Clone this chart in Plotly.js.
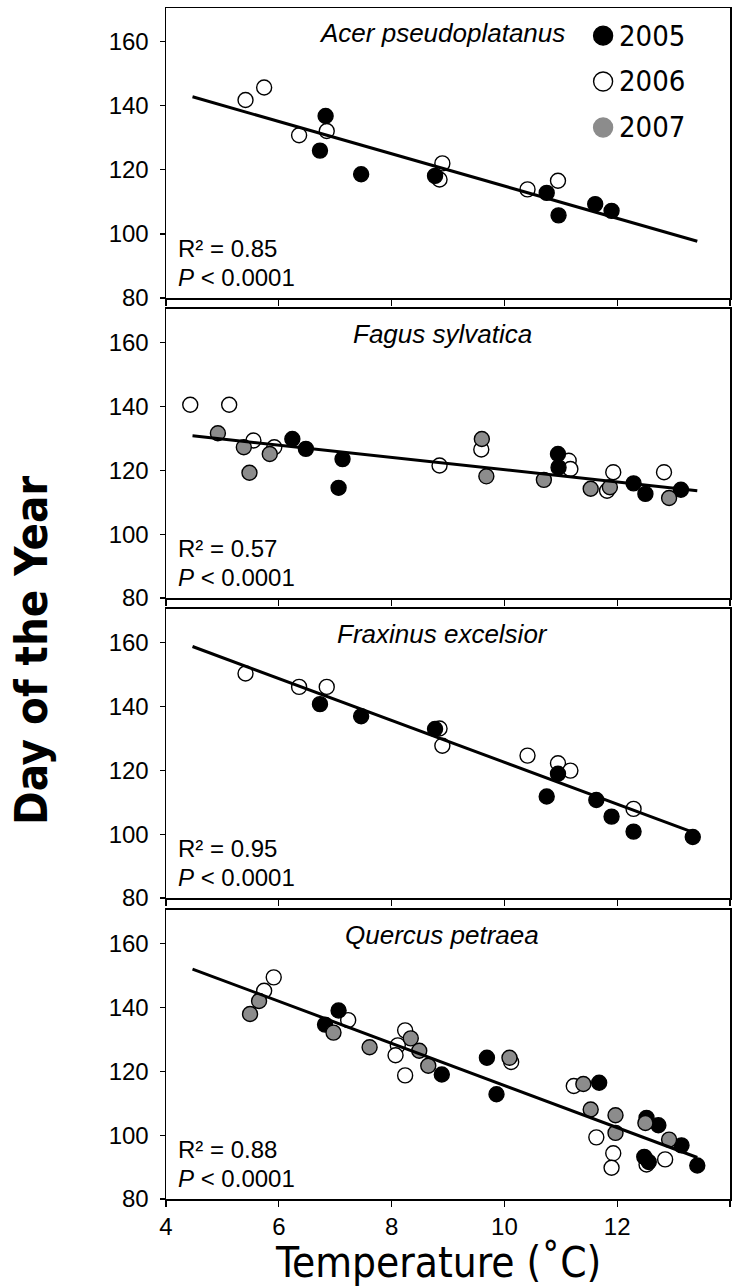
<!DOCTYPE html>
<html>
<head>
<meta charset="utf-8">
<script src="https://cdn.plot.ly/plotly-3.0.1.min.js"></script>
<style>html,body{margin:0;padding:0;background:#fff;}#chart{width:742px;height:1286px;}</style>
</head>
<body>
<div id="chart"></div>
<script>
// ---------- data ----------
const species = ['Acer pseudoplatanus', 'Fagus sylvatica', 'Fraxinus excelsior', 'Quercus petraea'];
const years = ['2005', '2006', '2007'];
const r2Values = ['0.85', '0.57', '0.95', '0.88'];
const pLabel = '0.0001';
const xTickVals = [4, 6, 8, 10, 12, 14];
const yTickVals = [80, 100, 120, 140, 160];

// Acer pseudoplatanus
const acer2005X = [6.83, 6.73, 7.46, 8.77, 10.75, 10.96, 11.61, 11.90];
const acer2005Y = [136.8, 126.0, 118.6, 118.1, 112.8, 105.8, 109.3, 107.2];
const acer2006X = [5.41, 5.74, 6.36, 6.85, 8.90, 8.85, 10.41, 10.95];
const acer2006Y = [141.8, 145.7, 130.8, 132.1, 122.0, 117.0, 113.9, 116.6];
const acer2007X = [];
const acer2007Y = [];
const acerFitX = [4.47, 13.42];
const acerFitY = [142.8, 97.7];

// Fagus sylvatica
const fagus2005X = [6.24, 6.48, 7.13, 7.06, 10.95, 10.96, 12.29, 12.50, 13.13];
const fagus2005Y = [129.8, 126.7, 123.5, 114.5, 125.1, 120.9, 115.9, 112.6, 113.9];
const fagus2006X = [4.43, 5.12, 5.55, 5.92, 8.85, 9.59, 11.14, 11.17, 11.93, 11.82, 12.83];
const fagus2006Y = [140.5, 140.5, 129.3, 127.2, 121.5, 126.5, 123.0, 120.4, 119.4, 113.6, 119.4];
const fagus2007X = [4.92, 5.38, 5.48, 5.84, 9.60, 9.68, 10.70, 11.53, 11.87, 12.92];
const fagus2007Y = [131.6, 127.2, 119.2, 125.1, 129.8, 118.1, 117.0, 114.2, 114.7, 111.3];
const fagusFitX = [4.47, 13.42];
const fagusFitY = [130.8, 113.6];

// Fraxinus excelsior
const frax2005X = [6.73, 7.46, 8.77, 10.95, 10.75, 11.63, 11.90, 12.29, 13.34];
const frax2005Y = [140.7, 136.9, 132.9, 118.9, 111.8, 110.7, 105.5, 100.8, 99.1];
const frax2006X = [5.41, 6.36, 6.85, 8.85, 8.90, 10.41, 10.95, 11.17, 12.29];
const frax2006Y = [150.3, 146.1, 146.1, 133.1, 127.7, 124.6, 122.2, 119.9, 107.9];
const frax2007X = [];
const frax2007Y = [];
const fraxFitX = [4.47, 13.42];
const fraxFitY = [158.75, 100.1];

// Quercus petraea
const quer2005X = [7.06, 6.82, 8.89, 9.69, 9.86, 11.68, 12.52, 12.73, 13.14, 12.48, 12.56, 13.42];
const quer2005Y = [139.0, 134.6, 119.0, 124.2, 112.8, 116.4, 105.4, 103.1, 96.8, 93.2, 91.6, 90.5];
const quer2006X = [5.91, 5.74, 7.23, 8.24, 8.11, 8.07, 8.24, 10.12, 11.23, 11.63, 11.93, 11.90, 12.52, 12.85];
const quer2006Y = [149.4, 145.2, 136.0, 132.8, 128.1, 125.0, 118.7, 122.9, 115.4, 99.3, 94.3, 89.8, 90.8, 92.4];
const quer2007X = [5.49, 5.65, 6.97, 7.61, 8.34, 8.49, 8.65, 10.09, 11.40, 11.53, 11.97, 11.97, 12.50, 12.92];
const quer2007Y = [137.9, 142.0, 132.1, 127.5, 130.3, 126.4, 121.7, 124.2, 116.0, 108.0, 106.2, 100.7, 103.8, 98.6];
const querFitX = [4.47, 13.42];
const querFitY = [152.0, 93.0];

// ---------- build ----------
const panels = [
  {s05: [acer2005X, acer2005Y], s06: [acer2006X, acer2006Y], s07: [acer2007X, acer2007Y], fit: [acerFitX, acerFitY]},
  {s05: [fagus2005X, fagus2005Y], s06: [fagus2006X, fagus2006Y], s07: [fagus2007X, fagus2007Y], fit: [fagusFitX, fagusFitY]},
  {s05: [frax2005X, frax2005Y], s06: [frax2006X, frax2006Y], s07: [frax2007X, frax2007Y], fit: [fraxFitX, fraxFitY]},
  {s05: [quer2005X, quer2005Y], s06: [quer2006X, quer2006Y], s07: [quer2007X, quer2007Y], fit: [querFitX, querFitY]}
];

const GRAY = '#8c8c8c';
const yearStyle = {
  '2005': {color: '#000000'},
  '2006': {color: '#ffffff'},
  '2007': {color: GRAY}
};
const domains = [[0.7565, 1.0], [0.5046, 0.7473], [0.2527, 0.4954], [0.0, 0.2427]];

const traces = [];
const layout = {
  width: 742, height: 1286,
  margin: {l: 166, r: 12, t: 8, b: 87},
  paper_bgcolor: '#ffffff', plot_bgcolor: '#ffffff',
  showlegend: false,
  font: {family: 'Liberation Sans, Arial, sans-serif', color: '#000'},
  annotations: [], shapes: []
};

panels.forEach((p, i) => {
  const n = i === 0 ? '' : String(i + 1);
  const xa = 'x' + n, ya = 'y' + n;
  const mk = (xy, yr) => ({
    type: 'scatter', mode: 'markers', x: xy[0], y: xy[1], xaxis: xa, yaxis: ya,
    name: yr, hoverinfo: 'x+y',
    marker: {size: 15, color: yearStyle[yr].color, line: {color: '#000', width: 1.4}}
  });
  traces.push(mk(p.s06, '2006'));
  traces.push(mk(p.s05, '2005'));
  traces.push(mk(p.s07, '2007'));
  traces.push({type: 'scatter', mode: 'lines', x: p.fit[0], y: p.fit[1], xaxis: xa, yaxis: ya,
    line: {color: '#000', width: 3}, hoverinfo: 'skip'});

  layout['xaxis' + n] = {
    anchor: ya, domain: [0, 1], range: [4, 14], tickvals: xTickVals,
    ticks: 'outside', ticklen: 6, tickwidth: 1.2, tickcolor: '#000',
    showticklabels: i === 3, tickfont: {size: 24, family: 'Liberation Sans, Arial, sans-serif'},
    showline: true, linecolor: '#000', linewidth: 1.5, mirror: true,
    showgrid: false, zeroline: false, fixedrange: true
  };
  layout['yaxis' + n] = {
    anchor: xa, domain: domains[i], range: [80, 170.5], tickvals: yTickVals,
    ticks: 'outside', ticklen: 5, tickwidth: 1.2, tickcolor: '#000',
    tickfont: {size: 24, family: 'Liberation Sans, Arial, sans-serif'},
    ticklabelstandoff: 6,
    showline: true, linecolor: '#000', linewidth: 1.5, mirror: true,
    showgrid: false, zeroline: false, fixedrange: true
  };

  layout.annotations.push({
    xref: xa + ' domain', yref: ya + ' domain', x: 0.49, y: 0.915,
    xanchor: 'center', yanchor: 'middle', showarrow: false,
    text: '<i>' + species[i] + '</i>', font: {size: 26, family: 'Liberation Sans, Arial, sans-serif'}
  });
  layout.annotations.push({
    xref: xa + ' domain', yref: ya + ' domain', x: 0.018, y: 0.172,
    xanchor: 'left', yanchor: 'middle', showarrow: false,
    text: 'R² = ' + r2Values[i], font: {size: 24, family: 'Liberation Sans, Arial, sans-serif'}
  });
  layout.annotations.push({
    xref: xa + ' domain', yref: ya + ' domain', x: 0.018, y: 0.072,
    xanchor: 'left', yanchor: 'middle', showarrow: false,
    text: '<i>P</i> &lt; ' + pLabel, font: {size: 24, family: 'Liberation Sans, Arial, sans-serif'}
  });
});

// legend (panel 1)
const legY = [0.9768, 0.9383, 0.8997];
years.forEach((yr, k) => {
  layout.shapes.push({
    type: 'circle', xref: 'paper', yref: 'paper', xsizemode: 'pixel', ysizemode: 'pixel',
    xanchor: 0.775, yanchor: legY[k], x0: -9.5, x1: 9.5, y0: -9.5, y1: 9.5,
    fillcolor: yearStyle[yr].color, line: {color: yr === '2007' ? GRAY : '#000', width: 1.4}
  });
  layout.annotations.push({
    xref: 'paper', yref: 'paper', x: 0.800, y: legY[k], xanchor: 'left', yanchor: 'middle',
    showarrow: false, text: yr,
    font: {size: 29, family: 'DejaVu Sans Condensed, DejaVu Sans, sans-serif'}
  });
});

// axis titles
layout.annotations.push({
  xref: 'paper', yref: 'paper', x: -0.2376, y: 0.461, xanchor: 'center', yanchor: 'middle',
  textangle: -90, showarrow: false, text: '<b>Day of the Year</b>',
  font: {size: 45, family: 'DejaVu Sans Condensed, DejaVu Sans, sans-serif'}
});
layout.annotations.push({
  xref: 'paper', yref: 'paper', x: 0.482, y: -0.053, xanchor: 'center', yanchor: 'middle',
  showarrow: false, text: 'Temperature (˚C)',
  font: {size: 42, family: 'DejaVu Sans Condensed, DejaVu Sans, sans-serif'}
});

Plotly.newPlot('chart', traces, layout, {displayModeBar: false, staticPlot: true});
</script>
</body>
</html>
